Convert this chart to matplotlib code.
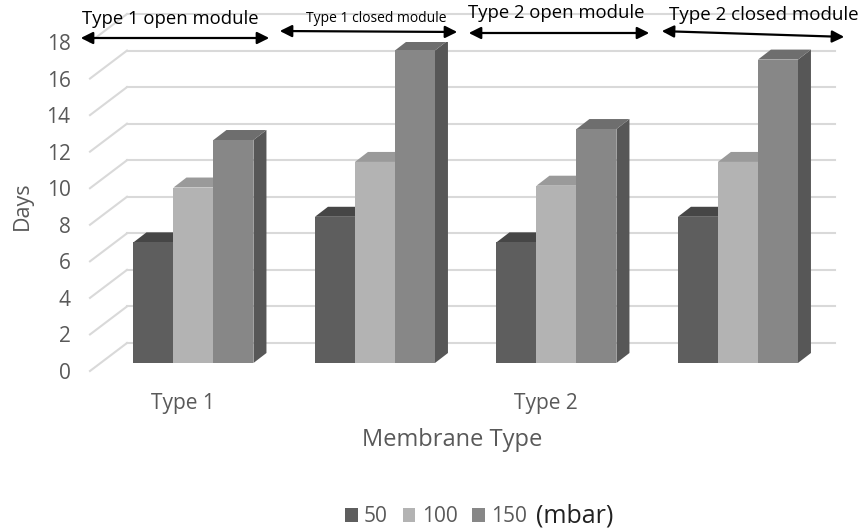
import numpy as np
import matplotlib
matplotlib.use("Agg")
import matplotlib.pyplot as plt
from matplotlib.patches import Polygon, FancyArrowPatch

plt.rcParams['font.family'] = ['Open Sans', 'DejaVu Sans']

# Days per membrane module at each pressure
groups = ['Type 1 open', 'Type 1 closed', 'Type 2 open', 'Type 2 closed']
days_50 = [6.6, 8.0, 6.6, 8.0]
days_100 = [9.6, 11.0, 9.7, 11.0]
days_150 = [12.2, 17.1, 12.8, 16.6]
pressures = ['50', '100', '150']
cat_labels = ['Type 1', 'Type 2']
yticks = np.arange(0, 19, 2)

front_col = ['#5e5e5e', '#b3b3b3', '#878787']
top_col = ['#464646', '#9a9a9a', '#6e6e6e']
side_col = ['#4a4a4a', '#8a8a8a', '#575757']
grey = '#595959'

W, H = 860, 531
fig = plt.figure(figsize=(8.6, 5.31), dpi=100)

def fx(px):
    return px / W

def fy(py):
    return 1 - py / H

# front plane of the 3d box: x 90..835 px, y 371..42 px
ax = fig.add_axes((fx(90), fy(371), fx(835 - 90), fy(42) - fy(371)))
x0 = -0.57
ax.set_xlim(x0, x0 + 745 / 181.5)
ax.set_ylim(0, 18)
for s in ax.spines.values():
    s.set_visible(False)

# wall depth and bar depth in data units
wall_dx, wall_dy = 37 / 181.5, 28 / 18.28
bar_dx, bar_dy = 13 / 181.5, 10 / 18.28
base = 8 / 18.28
width = 40 / 181.5

# back wall gridlines and floor/wall diagonals
xr = x0 + (798 - 90) / 181.5
for yv in yticks:
    ax.plot([x0, x0 + wall_dx], [yv, yv + wall_dy], color='#d9d9d9', lw=1.5,
            clip_on=False, zorder=1)
    ax.plot([x0 + wall_dx, xr + wall_dx], [yv + wall_dy, yv + wall_dy],
            color='#d9d9d9', lw=1.5, clip_on=False, zorder=1)

series = [days_50, days_100, days_150]
centers = np.arange(len(groups))
for g, c in enumerate(centers):
    for k, vals in enumerate(series):
        left = c + (k - 1.5) * width
        right = left + width
        top = base + vals[g]
        side = Polygon([(right, base), (right + bar_dx, base + bar_dy),
                        (right + bar_dx, top + bar_dy), (right, top)],
                       closed=True, fc=side_col[k], ec='none', zorder=3)
        cap = Polygon([(left, top), (left + bar_dx, top + bar_dy),
                       (right + bar_dx, top + bar_dy), (right, top)],
                      closed=True, fc=top_col[k], ec='none', zorder=3)
        ax.add_patch(side)
        ax.add_patch(cap)
        ax.bar(left, vals[g], width=width, bottom=base, align='edge',
               color=front_col[k], zorder=3,
               label=pressures[k] if g == 0 else None)

ax.set_yticks(yticks)
ax.set_xticks([-0.06, 1.94])
ax.set_xticklabels(cat_labels)
ax.tick_params(axis='both', length=0, colors=grey)
ax.tick_params(axis='y', pad=14, labelsize=15)
ax.tick_params(axis='x', pad=16, labelsize=15)

fig.text(fx(22), fy(206), 'Days', rotation=90, ha='center', va='center',
         fontsize=15.5, color=grey)
fig.text(fx(452), fy(440), 'Membrane Type', ha='center', va='center',
         fontsize=17, color=grey)

leg = fig.legend(loc='center', bbox_to_anchor=(fx(436), fy(517)), ncol=3,
                 frameon=False, handlelength=0.62, handleheight=0.62,
                 handletextpad=0.3, columnspacing=0.7, fontsize=15)
for t in leg.get_texts():
    t.set_color(grey)
fig.text(fx(536), fy(516), '(mbar)', ha='left', va='center', fontsize=18,
         color='#222222')

# module spans along the top
spans = [
    ('Type 1 open module', 78, 272, 38, 38, 170, 19, 13.3),
    ('Type 1 closed module', 277, 460, 31, 32, 376, 18, 10),
    ('Type 2 open module', 466, 652, 33, 33, 556, 13, 13.3),
    ('Type 2 closed module', 659, 847, 31, 37, 764, 15, 13.5),
]
for text, xa, xb, ya, yb, tx, ty, fs in spans:
    fig.add_artist(FancyArrowPatch(
        (fx(xa), fy(ya)), (fx(xb), fy(yb)), transform=fig.transFigure,
        arrowstyle='<|-|>', mutation_scale=18, lw=1.6, color='black'))
    fig.text(fx(tx), fy(ty), text, ha='center', va='center', fontsize=fs,
             color='black')

fig.savefig('out.png', dpi=100)
